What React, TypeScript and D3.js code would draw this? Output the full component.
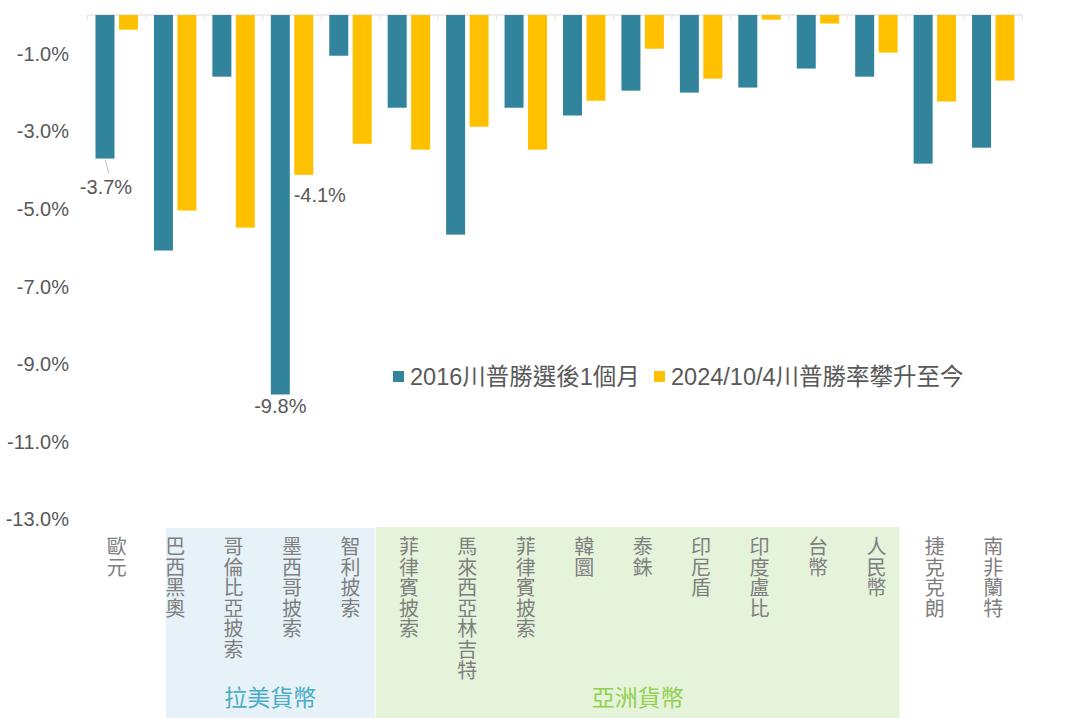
import React from 'react';
import * as d3 from 'd3';

// currencies along the x axis (one label per bar pair)
const categories = [
  '歐元', '巴西黑奧', '哥倫比亞披索', '墨西哥披索', '智利披索',
  '菲律賓披索', '馬來西亞林吉特', '菲律賓披索', '韓圜', '泰銖',
  '印尼盾', '印度盧比', '台幣', '人民幣', '捷克克朗', '南非蘭特',
];

const seriesNames = ['2016川普勝選後1個月', '2024/10/4川普勝率攀升至今'];

// % change
const values2016 = [-3.7, -6.07, -1.59, -9.78, -1.05, -2.39, -5.66, -2.39, -2.59, -1.95, -2.0, -1.87, -1.38, -1.59, -3.83, -3.42];
const values2024 = [-0.38, -5.04, -5.48, -4.12, -3.32, -3.47, -2.88, -3.47, -2.21, -0.87, -1.64, -0.12, -0.22, -0.97, -2.23, -1.69];

const yTicks = [-1, -3, -5, -7, -9, -11, -13];

// bracketed currency groups under the axis (category index ranges)
const groupNames = ['拉美貨幣', '亞洲貨幣'];
const groupFrom = [1, 5];
const groupTo = [4, 13];

// which bars carry a value label: [category, series]
const labelledBars: [number, number][] = [[0, 0], [3, 0], [3, 1]];

const W = 1077;
const H = 718;
const colors = ['#31849B', '#FFC000'];
const groupFill = ['#E6F2F8', '#E5F3DA'];
const groupText = ['#4BACC6', '#92D050'];
const latin = '"Liberation Sans", Arial, "Noto Sans CJK TC", sans-serif';
const cjk = '"Noto Sans CJK TC", "Liberation Sans", sans-serif';

// plain hyphen minus, as in the original chart
const pct = (v: number) => d3.format('.1f')(v).replace('\u2212', '-') + '%';

export default function App() {
  const idx = categories.map((_, i) => i);
  const x = d3.scaleBand<number>().domain(idx).range([87.5, 1022.5]).padding(0);
  const x1 = d3.scaleBand<number>().domain([0, 1]).range([8, x.bandwidth() - 8]).paddingInner(0.19);
  const y = d3.scaleLinear().domain([0, -13]).range([15, 519.4]);
  const series = [values2016, values2024];

  return (
    <svg width={W} height={H} viewBox={`0 0 ${W} ${H}`}
      style={{ position: 'absolute', left: 0, top: 0, background: '#fff' }}>
      {/* group backgrounds */}
      {groupNames.map((g, gi) => {
        const x0 = gi === 0 ? (x(groupFrom[gi]) as number) + 20 : (x(groupFrom[gi]) as number) - 4;
        const x1e = gi === 0 ? (x(groupTo[gi]) as number) + x.bandwidth() - 5 : (x(groupTo[gi]) as number) + x.bandwidth() - 6;
        return (
          <g key={g}>
            <rect x={x0} y={gi === 0 ? 528 : 527} width={x1e - x0} height={H} fill={groupFill[gi]} />
            <text x={(x0 + x1e) / 2} y={706} textAnchor="middle" fontFamily={cjk} fontSize={23}
              fill={groupText[gi]}>{g}</text>
          </g>
        );
      })}

      {/* y tick labels */}
      {yTicks.map(t => (
        <text key={t} x={69} y={y(t)} dy="0.35em" textAnchor="end" fontFamily={latin}
          fontSize={20} fill="#595959">{pct(t)}</text>
      ))}

      {/* category axis line + ticks */}
      <line x1={87.5} x2={1022.5} y1={15} y2={15} stroke="#D9D9D9" strokeWidth={1} />
      {[...idx, categories.length].map(i => {
        const px = 87.5 + i * x.bandwidth();
        return <line key={i} x1={px} x2={px} y1={15} y2={20} stroke="#E3E3E3" strokeWidth={1} />;
      })}

      {/* bars */}
      {series.map((vals, si) => vals.map((v, i) => (
        <rect key={`${si}-${i}`} x={(x(i) as number) + (x1(si) as number)} y={y(0)}
          width={x1.bandwidth()} height={y(v) - y(0)} fill={colors[si]} />
      )))}

      {/* value labels */}
      {labelledBars.map(([ci, si]) => {
        const v = series[si][ci];
        const cx = (x(ci) as number) + (x1(si) as number) + x1.bandwidth() / 2;
        if (ci === 0) {
          return (
            <g key={`${ci}-${si}`}>
              <line x1={cx} y1={y(v) + 1} x2={cx + 4} y2={y(v) + 15} stroke="#BFBFBF" strokeWidth={1} />
              <text x={cx + 1} y={y(v) + 28} dy="0.35em" textAnchor="middle" fontFamily={latin}
                fontSize={20} fill="#595959">{pct(v)}</text>
            </g>
          );
        }
        const dx = si === 1 ? 16 : 0;
        const dyOff = si === 1 ? 20 : 12;
        return (
          <text key={`${ci}-${si}`} x={cx + dx} y={y(v) + dyOff} dy="0.35em" textAnchor="middle"
            fontFamily={latin} fontSize={20} fill="#595959">{pct(v)}</text>
        );
      })}

      {/* vertical category labels, one glyph per line */}
      {categories.map((c, i) => {
        const cx = (x(i) as number) + x.bandwidth() / 2;
        return (
          <text key={i} fontFamily={cjk} fontSize={20} fill="#7F7F7F" textAnchor="middle">
            {[...c].map((ch, k) => (
              <tspan key={k} x={cx} y={554 + k * 20.6}>{ch}</tspan>
            ))}
          </text>
        );
      })}

      {/* legend */}
      {seriesNames.map((s, si) => {
        const lx = si === 0 ? 393 : 654;
        return (
          <g key={s}>
            <rect x={lx} y={371} width={11} height={11} fill={colors[si]} />
            <text x={lx + 17} y={377} dy="0.35em" fontFamily={latin} fontSize={23.5} fill="#595959">{s}</text>
          </g>
        );
      })}
    </svg>
  );
}
